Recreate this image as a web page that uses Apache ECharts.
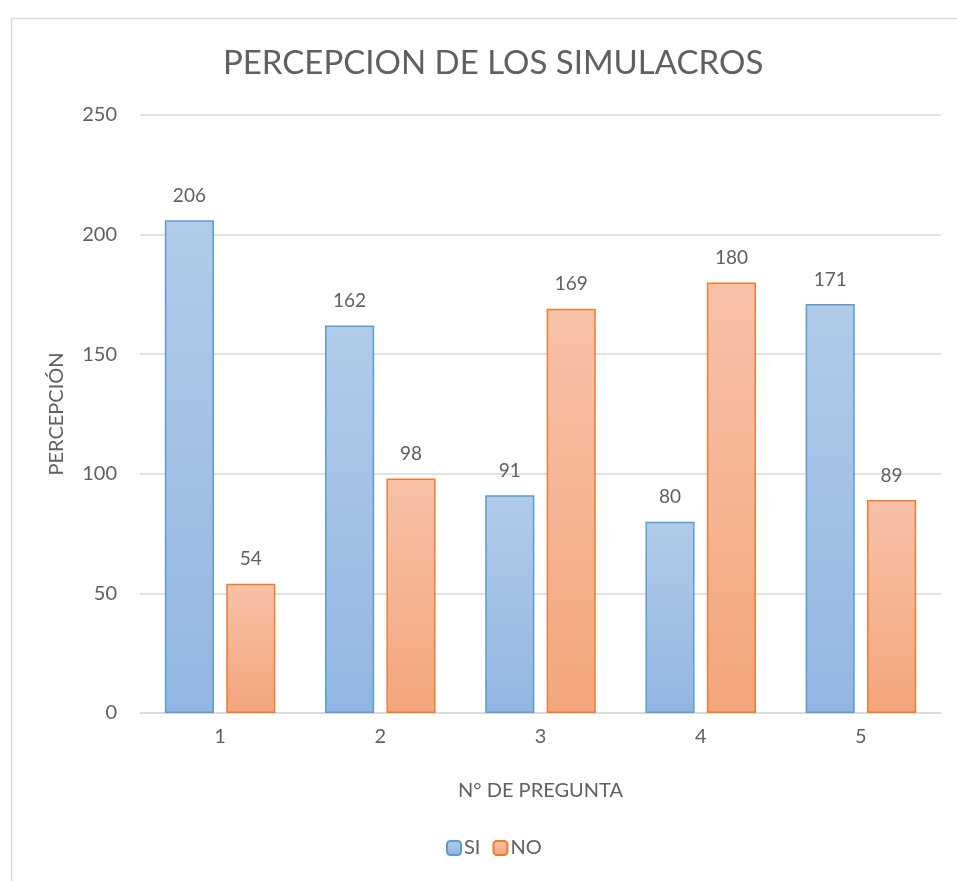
<!DOCTYPE html>
<html>
<head>
<meta charset="utf-8">
<script src="https://cdn.jsdelivr.net/npm/echarts@6/dist/echarts.min.js"></script>
<style>
  html, body { margin: 0; padding: 0; background: #fff; }
  #chart { width: 957px; height: 881px; }
</style>
</head>
<body>
<div id="chart"></div>
<script>
// datos del gráfico
const preguntas = ['1', '2', '3', '4', '5'];
const valoresSi = [206, 162, 91, 80, 171];
const valoresNo = [54, 98, 169, 180, 89];
const nombreSerie = ['SI', 'NO'];

const fuente = 'Lato, "Open Sans", sans-serif';
const gris = '#606060';

const chart = echarts.init(document.getElementById('chart'));

const grad = (top, bottom) => new echarts.graphic.LinearGradient(0, 0, 0, 1, [
  { offset: 0, color: top },
  { offset: 1, color: bottom }
]);

const option = {
  backgroundColor: '#fff',
  animation: false,
  textStyle: { fontFamily: fuente },
  graphic: [{
    type: 'rect',
    left: 9, top: 16,
    shape: { width: 980, height: 900 },
    style: { fill: 'none', stroke: '#d9d9d9', lineWidth: 1.5 },
    silent: true
  }],
  title: {
    text: 'PERCEPCION DE LOS SIMULACROS',
    left: 218,
    top: 42,
    textStyle: { fontSize: 33, fontWeight: 'normal', color: gris, fontFamily: fuente }
  },
  legend: {
    bottom: 18,
    left: 441,
    itemWidth: 14,
    itemHeight: 14,
    itemGap: 12,
    textStyle: { fontSize: 20, color: gris, padding: [0, 0, 0, -2] },
    data: nombreSerie
  },
  grid: { left: 140, right: 16, top: 115, bottom: 168 },
  xAxis: {
    type: 'category',
    data: preguntas,
    name: 'N° DE PREGUNTA',
    nameLocation: 'middle',
    nameGap: 68,
    nameTextStyle: { fontSize: 20, color: gris },
    axisLine: { lineStyle: { color: '#d9d9d9', width: 1.5 } },
    axisTick: { show: false },
    axisLabel: { fontSize: 20, color: gris, margin: 14 }
  },
  yAxis: {
    type: 'value',
    min: 0,
    max: 250,
    interval: 50,
    name: 'PERCEPCIÓN',
    nameLocation: 'middle',
    nameGap: 73,
    nameTextStyle: { fontSize: 20, color: gris },
    axisLine: { show: false },
    axisTick: { show: false },
    axisLabel: { fontSize: 20, color: gris, margin: 23 },
    splitLine: { lineStyle: { color: '#d9d9d9', width: 1.5 } }
  },
  series: [
    {
      name: nombreSerie[0],
      type: 'bar',
      data: valoresSi,
      barGap: '25%',
      barCategoryGap: '31%',
      itemStyle: {
        color: grad('#b1cbe9', '#92b6e1'),
        borderColor: '#5b9bd5',
        borderWidth: 1.5
      },
      label: { show: true, position: 'top', distance: 15, fontSize: 19, color: gris }
    },
    {
      name: nombreSerie[1],
      type: 'bar',
      data: valoresNo,
      itemStyle: {
        color: grad('#f8c1a7', '#f4a57b'),
        borderColor: '#ed7d31',
        borderWidth: 1.5
      },
      label: { show: true, position: 'top', distance: 15, fontSize: 19, color: gris }
    }
  ]
};

chart.setOption(option);
</script>
</body>
</html>
